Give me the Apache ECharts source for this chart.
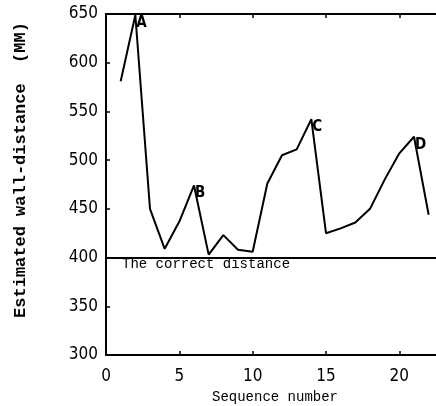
<!DOCTYPE html>
<html>
<head>
<meta charset="utf-8">
<script src="https://cdn.jsdelivr.net/npm/echarts@6/dist/echarts.min.js"></script>
<style>html,body{margin:0;padding:0;background:#fff;}#c{width:436px;height:406px;}</style>
</head>
<body>
<div id="c"></div>
<script>
var sequence = [1,2,3,4,5,6,7,8,9,10,11,12,13,14,15,16,17,18,19,20,21,22];
var distance = [581,649,450,409,437,474,403,423,408,406,476,505,511,542,425,430,436,450,480,507,524,444];
var peakLabels = ['', 'A', '', '', '', 'B', '', '', '', '', '', '', '', 'C', '', '', '', '', '', '', 'D', ''];
var correctDistance = 400;
var correctLabel = 'The correct distance';
var yTicks = [300,350,400,450,500,550,600,650];
var xTicks = [0,5,10,15,20];

var tickFont = "'Liberation Sans Narrow','DejaVu Sans Condensed',sans-serif";
var mono = "'Liberation Mono','DejaVu Sans Mono',monospace";

var data = sequence.map(function(s, i){
  return {value:[s, distance[i]]};
});

var chart = echarts.init(document.getElementById('c'));
chart.setOption({
  animation:false,
  backgroundColor:'#fff',
  grid:{left:106, top:14, right:0, bottom:51, show:false, containLabel:false, outerBoundsMode:'none'},
  xAxis:[{
    type:'value', min:0, max:22.5, interval:5, position:'bottom',
    name:'Sequence number', nameLocation:'middle', nameGap:35,
    nameTextStyle:{fontFamily:mono, fontSize:14, color:'#000', padding:[0,0,0,8]},
    axisLine:{show:true, lineStyle:{color:'#000', width:2}},
    axisTick:{show:true, inside:true, length:4, lineStyle:{color:'#000', width:1.5}, customValues:[5,10,15,20]},
    axisLabel:{fontFamily:tickFont, fontSize:17, color:'#000', margin:13, customValues:xTicks,
      formatter:function(v){return String(v);}},
    splitLine:{show:false}
  },{
    type:'value', min:0, max:22.5, interval:5, position:'top',
    axisLine:{show:true, lineStyle:{color:'#000', width:2}},
    axisTick:{show:true, inside:true, length:4, lineStyle:{color:'#000', width:1.5}, customValues:[5,10,15,20]},
    axisLabel:{show:false}, splitLine:{show:false}
  }],
  yAxis:{
    type:'value', min:300, max:650, interval:50,
    name:'Estimated wall-distance  (MM)', nameLocation:'middle', nameGap:77,
    nameTextStyle:{fontFamily:mono, fontSize:17, fontWeight:'bold', color:'#000', padding:[0,0,0,29]},
    axisLine:{show:true, lineStyle:{color:'#000', width:2}},
    axisTick:{show:true, inside:true, length:4, lineStyle:{color:'#000', width:1.5}, customValues:[350,400,450,500,550,600]},
    axisLabel:{fontFamily:tickFont, fontSize:17, color:'#000', margin:8, customValues:yTicks,
      formatter:function(v){return String(v);}},
    splitLine:{show:false}
  },
  series:[{
    type:'line', xAxisIndex:0, data:data, symbol:'circle', symbolSize:0.01, showSymbol:true,
    itemStyle:{color:'#000'},
    lineStyle:{color:'#000', width:2},
    label:{show:true, position:'right', distance:1, offset:[0,8], fontFamily:tickFont, fontSize:15, fontWeight:'bold', color:'#000',
      formatter:function(p){return peakLabels[p.dataIndex];}},
    markLine:{
      silent:true, symbol:'none',
      lineStyle:{color:'#000', width:2, type:'solid'},
      label:{show:true, formatter:correctLabel, position:'insideStartBottom', distance:[16,0],
        fontFamily:mono, fontSize:14, color:'#000'},
      data:[{yAxis:correctDistance}]
    }
  }]
});
</script>
</body>
</html>
